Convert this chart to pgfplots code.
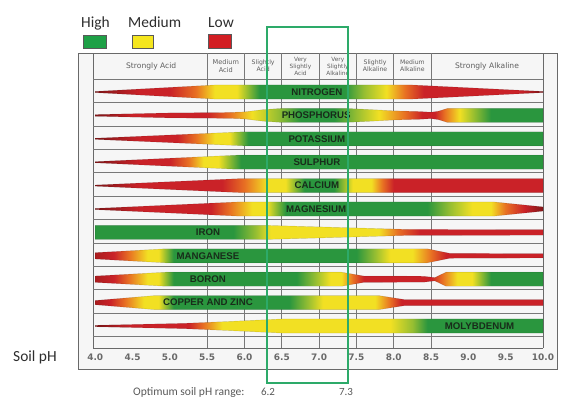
\documentclass[border=0pt]{standalone}
\usepackage{pgfplots}
\pgfplotsset{compat=1.18}
\usepackage{fontspec}
\setmainfont{Liberation Sans}
\newfontfamily\cfont{Carlito}
\newfontfamily\dvfont{DejaVu Sans}

\definecolor{cDR}{RGB}{130,22,24}
\definecolor{cDR2}{RGB}{170,28,30}
\definecolor{cR}{RGB}{202,34,40}
\definecolor{cO}{RGB}{232,112,35}
\definecolor{cY}{RGB}{242,224,35}
\definecolor{cYG}{RGB}{150,190,50}
\definecolor{cG}{RGB}{42,150,62}
\definecolor{gridc}{RGB}{120,120,120}
\definecolor{framec}{RGB}{105,105,105}
\definecolor{bgc}{RGB}{246,246,246}
\definecolor{boxc}{RGB}{45,170,105}
\definecolor{lblc}{RGB}{24,44,26}
\definecolor{hdrc}{RGB}{95,95,95}
\definecolor{tickc}{RGB}{105,105,105}
\definecolor{legc}{RGB}{45,45,45}
\definecolor{legG}{RGB}{30,160,70}
\definecolor{legY}{RGB}{245,230,30}
\definecolor{legR}{RGB}{210,30,35}

% colour stops: position = 25bp + (pH-4)*50bp/6  (pH 4 -> 25bp, pH 10 -> 75bp)
\pgfdeclarehorizontalshading{shN}{100bp}{color(0bp)=(cDR); color(25bp)=(cDR); color(30bp)=(cR); color(33.33bp)=(cR); color(36.25bp)=(cO); color(38.33bp)=(cY); color(40.83bp)=(cY); color(43.33bp)=(cG); color(52.92bp)=(cG); color(55bp)=(cYG); color(57.5bp)=(cY); color(59.58bp)=(cO); color(61.67bp)=(cR); color(72.5bp)=(cR); color(75bp)=(cDR); color(100bp)=(cDR)}
\pgfdeclarehorizontalshading{shP}{100bp}{color(0bp)=(cDR); color(25bp)=(cDR); color(29.17bp)=(cR); color(37.5bp)=(cR); color(40bp)=(cO); color(42.5bp)=(cY); color(45.42bp)=(cYG); color(47.92bp)=(cG); color(51.67bp)=(cG); color(54.17bp)=(cYG); color(56.67bp)=(cY); color(59.58bp)=(cO); color(61.5bp)=(cR); color(62.92bp)=(cR); color(64bp)=(cO); color(65.67bp)=(cY); color(69.17bp)=(cG); color(75bp)=(cG); color(100bp)=(cG)}
\pgfdeclarehorizontalshading{shK}{100bp}{color(0bp)=(cDR); color(25bp)=(cDR); color(30bp)=(cR); color(34.17bp)=(cR); color(36.25bp)=(cO); color(38.33bp)=(cY); color(40bp)=(cY); color(42.08bp)=(cG); color(100bp)=(cG)}
\pgfdeclarehorizontalshading{shS}{100bp}{color(0bp)=(cDR); color(25bp)=(cDR); color(30bp)=(cR); color(33.33bp)=(cR); color(35.42bp)=(cO); color(37.08bp)=(cY); color(38.75bp)=(cY); color(41.25bp)=(cG); color(100bp)=(cG)}
\pgfdeclarehorizontalshading{shCa}{100bp}{color(0bp)=(cDR); color(25bp)=(cDR); color(30bp)=(cR); color(39.17bp)=(cR); color(41.67bp)=(cO); color(44.17bp)=(cY); color(46.25bp)=(cY); color(48.33bp)=(cG); color(51.67bp)=(cG); color(53.75bp)=(cY); color(55.83bp)=(cY); color(57.08bp)=(cO); color(58.33bp)=(cR); color(100bp)=(cR)}
\pgfdeclarehorizontalshading{shMg}{100bp}{color(0bp)=(cDR); color(25bp)=(cDR); color(30bp)=(cR); color(37.92bp)=(cR); color(40bp)=(cO); color(42.5bp)=(cY); color(44.17bp)=(cY); color(46.25bp)=(cG); color(62.08bp)=(cG); color(64.58bp)=(cYG); color(67.08bp)=(cY); color(69.17bp)=(cY); color(70.83bp)=(cO); color(72.92bp)=(cR); color(75bp)=(cDR); color(100bp)=(cDR)}
\pgfdeclarehorizontalshading{shFe}{100bp}{color(0bp)=(cG); color(40.42bp)=(cG); color(42.92bp)=(cYG); color(44.58bp)=(cY); color(56.67bp)=(cY); color(58.75bp)=(cO); color(61.25bp)=(cR); color(100bp)=(cR)}
\pgfdeclarehorizontalshading{shMn}{100bp}{color(0bp)=(cDR2); color(25bp)=(cDR2); color(27.08bp)=(cR); color(28.75bp)=(cO); color(30.83bp)=(cY); color(32.08bp)=(cY); color(33.75bp)=(cG); color(54.17bp)=(cG); color(56.25bp)=(cYG); color(57.92bp)=(cY); color(60.42bp)=(cY); color(62.5bp)=(cO); color(64.17bp)=(cR); color(100bp)=(cR)}
\pgfdeclarehorizontalshading{shB}{100bp}{color(0bp)=(cDR2); color(25bp)=(cDR2); color(27.08bp)=(cR); color(28.75bp)=(cO); color(30.83bp)=(cY); color(32.08bp)=(cY); color(33.75bp)=(cG); color(47.5bp)=(cG); color(49.58bp)=(cYG); color(51.25bp)=(cY); color(52.5bp)=(cY); color(53.75bp)=(cO); color(55bp)=(cR); color(62.5bp)=(cR); color(63.75bp)=(cO); color(65.42bp)=(cY); color(67.08bp)=(cY); color(69.17bp)=(cG); color(100bp)=(cG)}
\pgfdeclarehorizontalshading{shCu}{100bp}{color(0bp)=(cDR2); color(25bp)=(cDR2); color(26.67bp)=(cR); color(28.33bp)=(cO); color(30.42bp)=(cY); color(32.08bp)=(cY); color(33.75bp)=(cG); color(46.67bp)=(cG); color(48.75bp)=(cYG); color(50.42bp)=(cY); color(56.25bp)=(cY); color(57.92bp)=(cO); color(59.17bp)=(cR); color(100bp)=(cR)}
\pgfdeclarehorizontalshading{shMo}{100bp}{color(0bp)=(cDR); color(25bp)=(cDR); color(29.17bp)=(cR); color(35.42bp)=(cR); color(37.08bp)=(cO); color(39.17bp)=(cY); color(57.92bp)=(cY); color(60.42bp)=(cYG); color(62.08bp)=(cG); color(100bp)=(cG)}

\begin{document}
\begin{tikzpicture}
% outer frame and background
\fill[bgc] (78bp,33bp) rectangle (557bp,349bp);
\draw[framec, line width=0.8bp] (78bp,33bp) rectangle (557bp,349bp);
\draw[framec, line width=0.8bp] (93bp,54bp) -- (93bp,349bp);
\draw[framec, line width=0.8bp] (543bp,54bp) -- (543bp,349bp);
\draw[framec, line width=0.8bp] (93bp,54bp) -- (543bp,54bp);

% legend
\filldraw[fill=legG, draw=black!65, line width=0.6bp] (83bp,354bp) rectangle (106bp,367bp);
\filldraw[fill=legY, draw=black!65, line width=0.6bp] (132bp,354bp) rectangle (153bp,367bp);
\filldraw[fill=legR, draw=black!65, line width=0.6bp] (208bp,354bp) rectangle (231bp,368bp);
\node[anchor=base west, inner sep=0pt, font=\cfont\fontsize{15.5}{18}\selectfont, text=legc] at (81bp,374bp) {High};
\node[anchor=base west, inner sep=0pt, font=\cfont\fontsize{15.5}{18}\selectfont, text=legc] at (128bp,374bp) {Medium};
\node[anchor=base west, inner sep=0pt, font=\cfont\fontsize{15.5}{18}\selectfont, text=legc] at (208bp,374bp) {Low};

% axis-side texts
\node[anchor=base west, inner sep=0pt, font=\cfont\fontsize{15.5}{18}\selectfont, text=legc] at (13bp,40.3bp) {Soil pH};
\node[anchor=base west, inner sep=0pt, font=\cfont\fontsize{11.6}{13}\selectfont, text=black!65] at (133bp,7bp) {Optimum soil pH range:};
\node[anchor=base, inner sep=0pt, font=\cfont\fontsize{11}{13}\selectfont, text=black!65] at (268bp,7bp) {6.2};
\node[anchor=base, inner sep=0pt, font=\cfont\fontsize{11}{13}\selectfont, text=black!65] at (346bp,7bp) {7.3};

\begin{axis}[
  at={(93bp,54bp)}, anchor=south west, scale only axis,
  width=450bp, height=295bp,
  xmin=3.97, xmax=10, ymin=-0.667, ymax=11.94, y dir=reverse,
  clip=false, axis line style={draw=none},
  xtick={4,4.5,5,5.5,6,6.5,7,7.5,8,8.5,9,9.5,10},
  xticklabels={4.0,4.5,5.0,5.5,6.0,6.5,7.0,7.5,8.0,8.5,9.0,9.5,10.0},
  ytick=\empty, major tick length=0pt,
  xticklabel style={anchor=center, yshift=-9bp, inner sep=0pt, text=tickc,
    font=\dvfont\bfseries\fontsize{9}{10}\selectfont},
  no markers,
]
% grid
\pgfplotsinvokeforeach{5.5,6,6.5,7,7.5,8,8.5}{
  \draw[gridc, line width=0.7bp] (axis cs:#1,-0.667) -- (axis cs:#1,11.94);
}
\draw[gridc, line width=0.7bp] (axis cs:3.97,0.444) -- (axis cs:10,0.444);
\pgfplotsinvokeforeach{1.45,2.45,3.45,4.45,5.45,6.45,7.45,8.45,9.45,10.45,11.45}{
  \draw[gridc, line width=0.6bp] (axis cs:3.97,#1) -- (axis cs:10,#1);
}
% header
\node[font=\dvfont\fontsize{7.6}{8}\selectfont, text=hdrc] at (axis cs:4.75,-0.11) {Strongly Acid};
\node[font=\dvfont\fontsize{6.6}{7.2}\selectfont, text=hdrc, align=center] at (axis cs:5.75,-0.11) {Medium\\Acid};
\node[font=\dvfont\fontsize{6.2}{7}\selectfont, text=hdrc, align=center] at (axis cs:6.25,-0.11) {Slightly\\Acid};
\node[font=\dvfont\fontsize{5.8}{7}\selectfont, text=hdrc, align=center] at (axis cs:6.75,-0.11) {Very\\Slightly\\Acid};
\node[font=\dvfont\fontsize{5.8}{7}\selectfont, text=hdrc, align=center] at (axis cs:7.25,-0.11) {Very\\Slightly\\Alkaline};
\node[font=\dvfont\fontsize{6.2}{7}\selectfont, text=hdrc, align=center] at (axis cs:7.75,-0.11) {Slightly\\Alkaline};
\node[font=\dvfont\fontsize{6.2}{7}\selectfont, text=hdrc, align=center] at (axis cs:8.25,-0.11) {Medium\\Alkaline};
\node[font=\dvfont\fontsize{7.6}{8}\selectfont, text=hdrc] at (axis cs:9.25,-0.11) {Strongly Alkaline};

% bands (upper edge left->right, lower edge right->left)
\pgfplotsset{band/.style={draw=black, draw opacity=0.18, line width=0.4bp}}
\addplot[band, shading=shN] coordinates {(4,0.976) (5.6,0.7) (8.25,0.7) (10,0.976) (10,1.024) (8.25,1.3) (5.6,1.3) (4,1.024)} --cycle;
\addplot[band, shading=shP] coordinates {(4,1.964) (5.0,1.895) (5.8,1.874) (6.0,1.85) (6.25,1.754) (6.5,1.7) (7.35,1.7) (7.65,1.745) (8.0,1.805) (8.35,1.835) (8.5,1.865) (8.6,1.82) (8.72,1.7) (10,1.7)
  (10,2.3) (8.72,2.3) (8.6,2.18) (8.5,2.135) (8.35,2.165) (8.0,2.195) (7.65,2.255) (7.35,2.3) (6.5,2.3) (6.25,2.246) (6.0,2.15) (5.8,2.126) (5.0,2.105) (4,2.036)} --cycle;
\addplot[band, shading=shK] coordinates {(4,2.976) (6.0,2.7) (10,2.7) (10,3.3) (6.0,3.3) (4,3.024)} --cycle;
\addplot[band, shading=shS] coordinates {(4,3.976) (5.9,3.7) (10,3.7) (10,4.3) (5.9,4.3) (4,4.024)} --cycle;
\addplot[band, shading=shCa] coordinates {(4,4.976) (5.95,4.7) (10,4.7) (10,5.3) (5.95,5.3) (4,5.024)} --cycle;
\addplot[band, shading=shMg] coordinates {(4,5.976) (5.9,5.7) (9.35,5.7) (10,5.91) (10,6.09) (9.35,6.3) (5.9,6.3) (4,6.024)} --cycle;
\addplot[band, shading=shFe] coordinates {(4,6.7) (6.3,6.7) (8.2,6.874) (10,6.88) (10,7.12) (8.2,7.126) (6.3,7.3) (4,7.3)} --cycle;
\addplot[band, shading=shMn] coordinates {(4,7.865) (4.95,7.7) (8.45,7.7) (8.75,7.895) (10,7.91) (10,8.09) (8.75,8.105) (8.45,8.3) (4.95,8.3) (4,8.135)} --cycle;
\addplot[band, shading=shB] coordinates {(4,8.865) (4.95,8.7) (7.3,8.7) (7.6,8.865) (8.4,8.874) (8.55,8.931) (8.7,8.7) (10,8.7)
  (10,9.3) (8.7,9.3) (8.55,9.069) (8.4,9.126) (7.6,9.135) (7.3,9.3) (4.95,9.3) (4,9.135)} --cycle;
\addplot[band, shading=shCu] coordinates {(4,9.91) (4.8,9.7) (7.8,9.7) (8.15,9.874) (10,9.874) (10,10.126) (8.15,10.126) (7.8,10.3) (4.8,10.3) (4,10.09)} --cycle;
\addplot[band, shading=shMo] coordinates {(4,10.97) (5.2,10.886) (5.8,10.805) (6.5,10.7) (10,10.7) (10,11.3) (6.5,11.3) (5.8,11.195) (5.2,11.114) (4,11.03)} --cycle;

% nutrient labels
\begin{scope}[every node/.style={font=\bfseries\fontsize{9.7}{10}\selectfont, text=lblc, inner sep=0pt}]
\node at (axis cs:6.97,1) {NITROGEN};
\node at (axis cs:6.96,2) {PHOSPHORUS};
\node at (axis cs:6.97,3) {POTASSIUM};
\node at (axis cs:6.97,4) {SULPHUR};
\node at (axis cs:6.97,5) {CALCIUM};
\node at (axis cs:6.96,6) {MAGNESIUM};
\node at (axis cs:5.51,7) {IRON};
\node at (axis cs:5.51,8) {MANGANESE};
\node at (axis cs:5.51,9) {BORON};
\node at (axis cs:5.51,10) {COPPER AND ZINC};
\node at (axis cs:9.15,11) {MOLYBDENUM};
\end{scope}

% optimum range box
\draw[boxc, line width=1.5bp] (axis cs:6.30,-1.778) rectangle (axis cs:7.387,13.44);
\end{axis}
\pgfresetboundingbox
\useasboundingbox (0bp,0bp) rectangle (564bp,402bp);
\end{tikzpicture}
\end{document}
